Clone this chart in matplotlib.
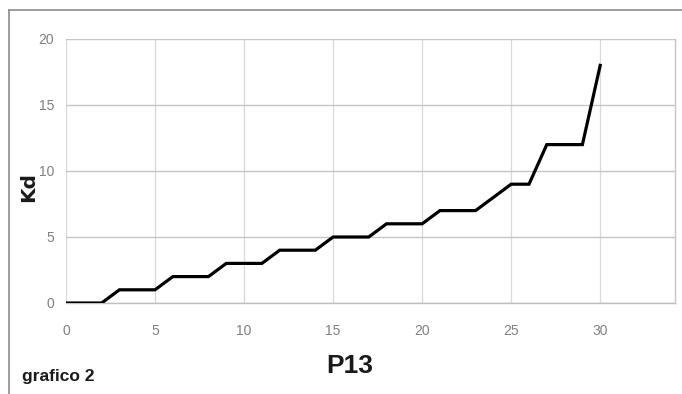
import matplotlib
matplotlib.use("Agg")
import matplotlib.pyplot as plt
from matplotlib.lines import Line2D

# Data
p13 = list(range(0, 31))
kd = [0, 0, 0, 1, 1, 1, 2, 2, 2, 3, 3, 3, 4, 4, 4, 5, 5, 5, 6, 6, 6,
      7, 7, 7, 8, 9, 9, 12, 12, 12, 18]
xticks = [0, 5, 10, 15, 20, 25, 30]
yticks = [0, 5, 10, 15, 20]

sans = ["Liberation Sans", "DejaVu Sans"]

W, H = 682, 394
fig = plt.figure(figsize=(W / 100, H / 100), dpi=100)
ax = fig.add_axes([66 / W, 1 - 303 / H, (675 - 66) / W, (303 - 39) / H])

ax.plot(p13, kd, color="black", lw=2.3, solid_joinstyle="miter", zorder=3)

ax.set_xlim(0, 34.2)
ax.set_ylim(0, 20)
ax.set_xticks(xticks)
ax.set_yticks(yticks)
ax.set_xticklabels([str(v) for v in xticks], family=sans, fontsize=10, color="#808080")
ax.set_yticklabels([str(v) for v in yticks], family=sans, fontsize=10, color="#808080")
ax.tick_params(axis="both", length=0)
ax.tick_params(axis="x", pad=15)
ax.tick_params(axis="y", pad=8.5)

ax.xaxis.grid(True, color="#d9d9d9", lw=0.9)
ax.yaxis.grid(True, color="#c6c6c6", lw=1.0)
ax.set_axisbelow(True)
for s in ["left", "top"]:
    ax.spines[s].set_visible(False)
ax.spines["bottom"].set_color("#bfbfbf")
ax.spines["bottom"].set_linewidth(1.0)
ax.spines["right"].set_color("#c6c6c6")
ax.spines["right"].set_linewidth(1.0)

# Axis titles
fig.text(350 / W, 1 - 366 / H, "P13", family=sans, fontweight="bold",
         fontsize=19, ha="center", va="center", color="#1a1a1a")
fig.text(29 / W, 1 - 187 / H, "Kd", family=["DejaVu Sans"], fontweight="bold",
         fontsize=14.5, rotation=90, ha="center", va="center", color="#1a1a1a")
fig.text(22 / W, 1 - 376 / H, "grafico 2", family=sans, fontweight="bold",
         fontsize=12.5, ha="left", va="center", color="#1a1a1a")

# Outer frame lines
fig.add_artist(Line2D([9 / W, 9 / W], [0, 1 - 10 / H], transform=fig.transFigure,
                      color="#8c8c8c", lw=1.2))
fig.add_artist(Line2D([9 / W, 1], [1 - 10 / H, 1 - 10 / H], transform=fig.transFigure,
                      color="#8c8c8c", lw=1.2))

fig.savefig("out.png", dpi=100)
